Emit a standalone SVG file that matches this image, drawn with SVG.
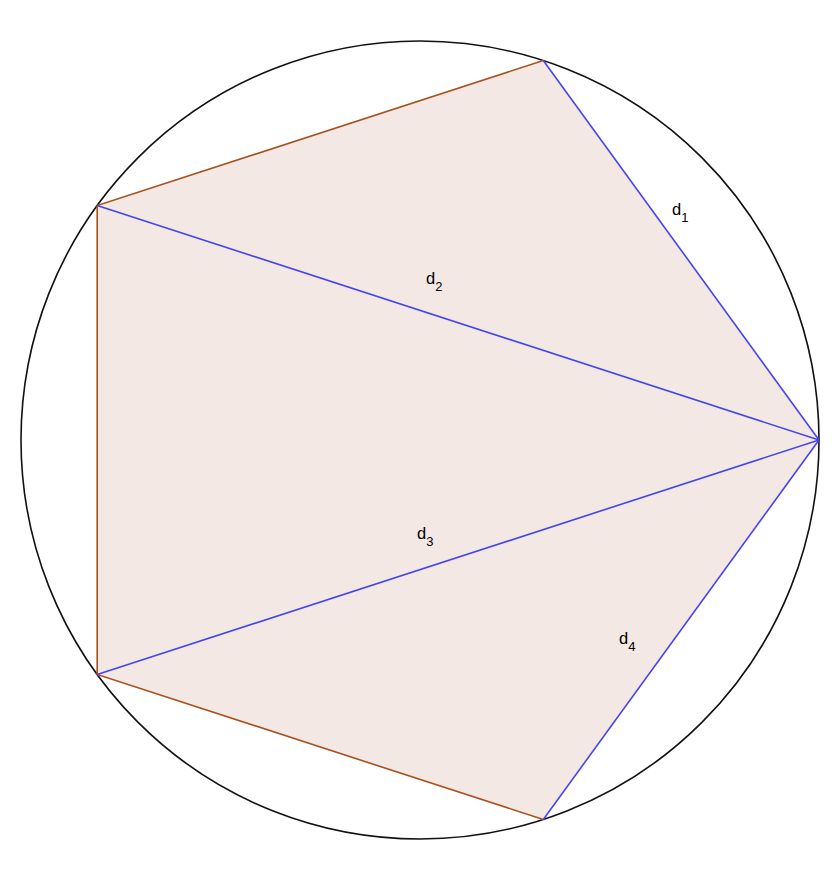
<svg xmlns="http://www.w3.org/2000/svg" width="840" height="880" viewBox="0 0 840 880">
<style>
.lbl{font-family:"Liberation Sans",Arial,sans-serif;font-size:16.5px;fill:#000}
.sub{font-size:13px}
.diag{stroke:#4444ee;stroke-width:1.6;fill:none}
.side{stroke:#a9501f;stroke-width:1.6;fill:none}
</style>
<rect x="0" y="0" width="840" height="880" fill="#ffffff"/>
<g id="circle">
<circle cx="420" cy="440" r="399" fill="none" stroke="#111" stroke-width="1.6"/>
</g>
<g id="pentagon">
<polygon points="819,440 543.3,60.5 97.2,205.5 97.2,674.5 543.3,819.5" fill="#f4e8e4" stroke="none"/>
<polyline class="side" points="543.3,60.5 97.2,205.5 97.2,674.5 543.3,819.5"/>
</g>
<g id="connectors">
<line class="diag" x1="819" y1="440" x2="543.3" y2="60.5"/>
<line class="diag" x1="819" y1="440" x2="97.2" y2="205.5"/>
<line class="diag" x1="819" y1="440" x2="97.2" y2="674.5"/>
<line class="diag" x1="819" y1="440" x2="543.3" y2="819.5"/>
</g>
<g id="labels">
<text class="lbl" x="672" y="215">d<tspan class="sub" dy="7">1</tspan></text>
<text class="lbl" x="426" y="284">d<tspan class="sub" dy="7">2</tspan></text>
<text class="lbl" x="417" y="539">d<tspan class="sub" dy="7">3</tspan></text>
<text class="lbl" x="619" y="644">d<tspan class="sub" dy="7">4</tspan></text>
</g>
</svg>
